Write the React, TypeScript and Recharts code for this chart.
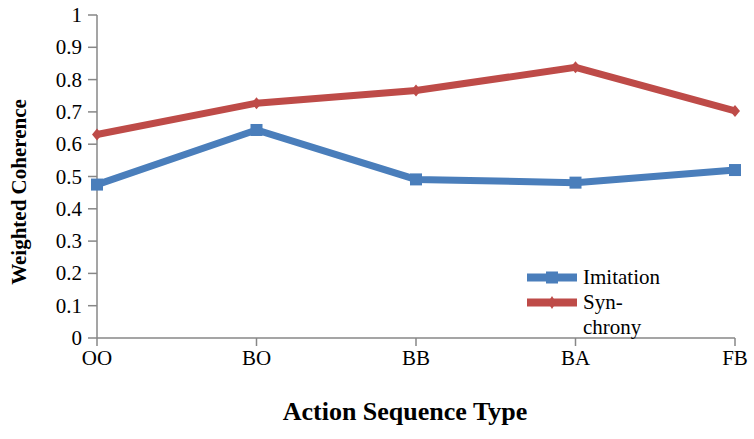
import React from 'react';
import { LineChart, Line, XAxis, YAxis, Legend } from 'recharts';

const categories = ['OO', 'BO', 'BB', 'BA', 'FB'];
const imitation = [0.475, 0.644, 0.491, 0.481, 0.52];
const synchrony = [0.63, 0.727, 0.766, 0.838, 0.703];
const yTicks = [0, 0.1, 0.2, 0.3, 0.4, 0.5, 0.6, 0.7, 0.8, 0.9, 1];
const yTickLabels = ['0', '0.1', '0.2', '0.3', '0.4', '0.5', '0.6', '0.7', '0.8', '0.9', '1'];

const data = categories.map((c, i) => ({ cat: c, imitation: imitation[i], synchrony: synchrony[i] }));

const FONT = 'Liberation Serif';
const BLUE = '#4A7EBB';
const RED = '#BE4B48';
const AXIS = '#878787';

const SquareDot = (props: any) => {
  const { cx, cy, index } = props;
  if (cx == null || cy == null) return null;
  return <rect key={'s' + index} x={cx - 6} y={cy - 6} width={12} height={12} fill={BLUE} />;
};

const DiamondDot = (props: any) => {
  const { cx, cy, index } = props;
  if (cx == null || cy == null) return null;
  return (
    <path
      key={'d' + index}
      d={`M${cx},${cy - 6} L${cx + 5},${cy} L${cx},${cy + 6} L${cx - 5},${cy} Z`}
      fill={RED}
    />
  );
};

const XTick = (props: any) => {
  const { x, y, payload } = props;
  return (
    <text x={x} y={y + 17} textAnchor="middle" fontFamily={FONT} fontSize={21} fill="#000">
      {payload.value}
    </text>
  );
};

const YTick = (props: any) => {
  const { x, y, payload } = props;
  const i = yTicks.indexOf(payload.value);
  return (
    <text x={x} y={y + 7} textAnchor="end" fontFamily={FONT} fontSize={21} fill="#000">
      {i >= 0 ? yTickLabels[i] : String(payload.value)}
    </text>
  );
};

const LegendContent = () => (
  <div style={{ fontFamily: FONT, fontSize: 21, color: '#000', lineHeight: '25px', width: 150 }}>
    <div style={{ display: 'flex', alignItems: 'flex-start', height: 25 }}>
      <svg width={56} height={25} style={{ flex: 'none' }}>
        <line x1={0} y1={12.5} x2={50} y2={12.5} stroke={BLUE} strokeWidth={8} />
        <rect x={19} y={6.5} width={12} height={12} fill={BLUE} />
      </svg>
      <span style={{ fontFamily: FONT }}>Imitation</span>
    </div>
    <div style={{ display: 'flex', alignItems: 'flex-start' }}>
      <svg width={56} height={25} style={{ flex: 'none' }}>
        <line x1={0} y1={12.5} x2={50} y2={12.5} stroke={RED} strokeWidth={8} />
        <path d="M25,6 L29,12.5 L25,19 L21,12.5 Z" fill={RED} />
      </svg>
      <span style={{ fontFamily: FONT }}>
        Syn-
        <br />
        chrony
      </span>
    </div>
  </div>
);

const YLabel = () => {
  const cx = 19;
  const cy = 192;
  return (
    <text
      x={cx}
      y={cy}
      transform={`rotate(-90, ${cx}, ${cy})`}
      textAnchor="middle"
      dominantBaseline="central"
      fontFamily={FONT}
      fontSize={21}
      fontWeight="bold"
      fill="#000"
    >
      Weighted Coherence
    </text>
  );
};

const XLabel = () => (
  <text x={405} y={420} textAnchor="middle" fontFamily={FONT} fontSize={26} fontWeight="bold" fill="#000">
    Action Sequence Type
  </text>
);

export default function App() {
  return (
    <div style={{ position: 'absolute', left: 0, top: 0, width: 754, height: 439, background: '#fff', fontFamily: FONT }}>
      <LineChart
        width={754}
        height={439}
        data={data}
        margin={{ top: 15, right: 19, left: 0, bottom: 0 }}
        style={{ fontFamily: FONT }}
      >
        <XAxis
          dataKey="cat"
          height={101}
          stroke={AXIS}
          strokeWidth={1.5}
          tickSize={8}
          tick={<XTick />}
          tickLine={{ stroke: AXIS }}
          label={<XLabel />}
        />
        <YAxis
          domain={[0, 1]}
          ticks={yTicks}
          width={97}
          stroke={AXIS}
          strokeWidth={1.5}
          tickSize={9}
          tickMargin={6}
          interval={0}
          tick={<YTick />}
          tickLine={{ stroke: AXIS }}
          label={<YLabel />}
        />
        <Legend
          layout="vertical"
          align="center"
          verticalAlign="middle"
          content={<LegendContent />}
          wrapperStyle={{ position: 'absolute', left: 527, top: 265, width: 150, margin: 0 }}
        />
        <Line
          dataKey="imitation"
          name="Imitation"
          stroke={BLUE}
          strokeWidth={7}
          dot={SquareDot}
          activeDot={false}
          isAnimationActive={false}
        />
        <Line
          dataKey="synchrony"
          name="Syn-chrony"
          stroke={RED}
          strokeWidth={7}
          dot={DiamondDot}
          activeDot={false}
          isAnimationActive={false}
        />
      </LineChart>
    </div>
  );
}
